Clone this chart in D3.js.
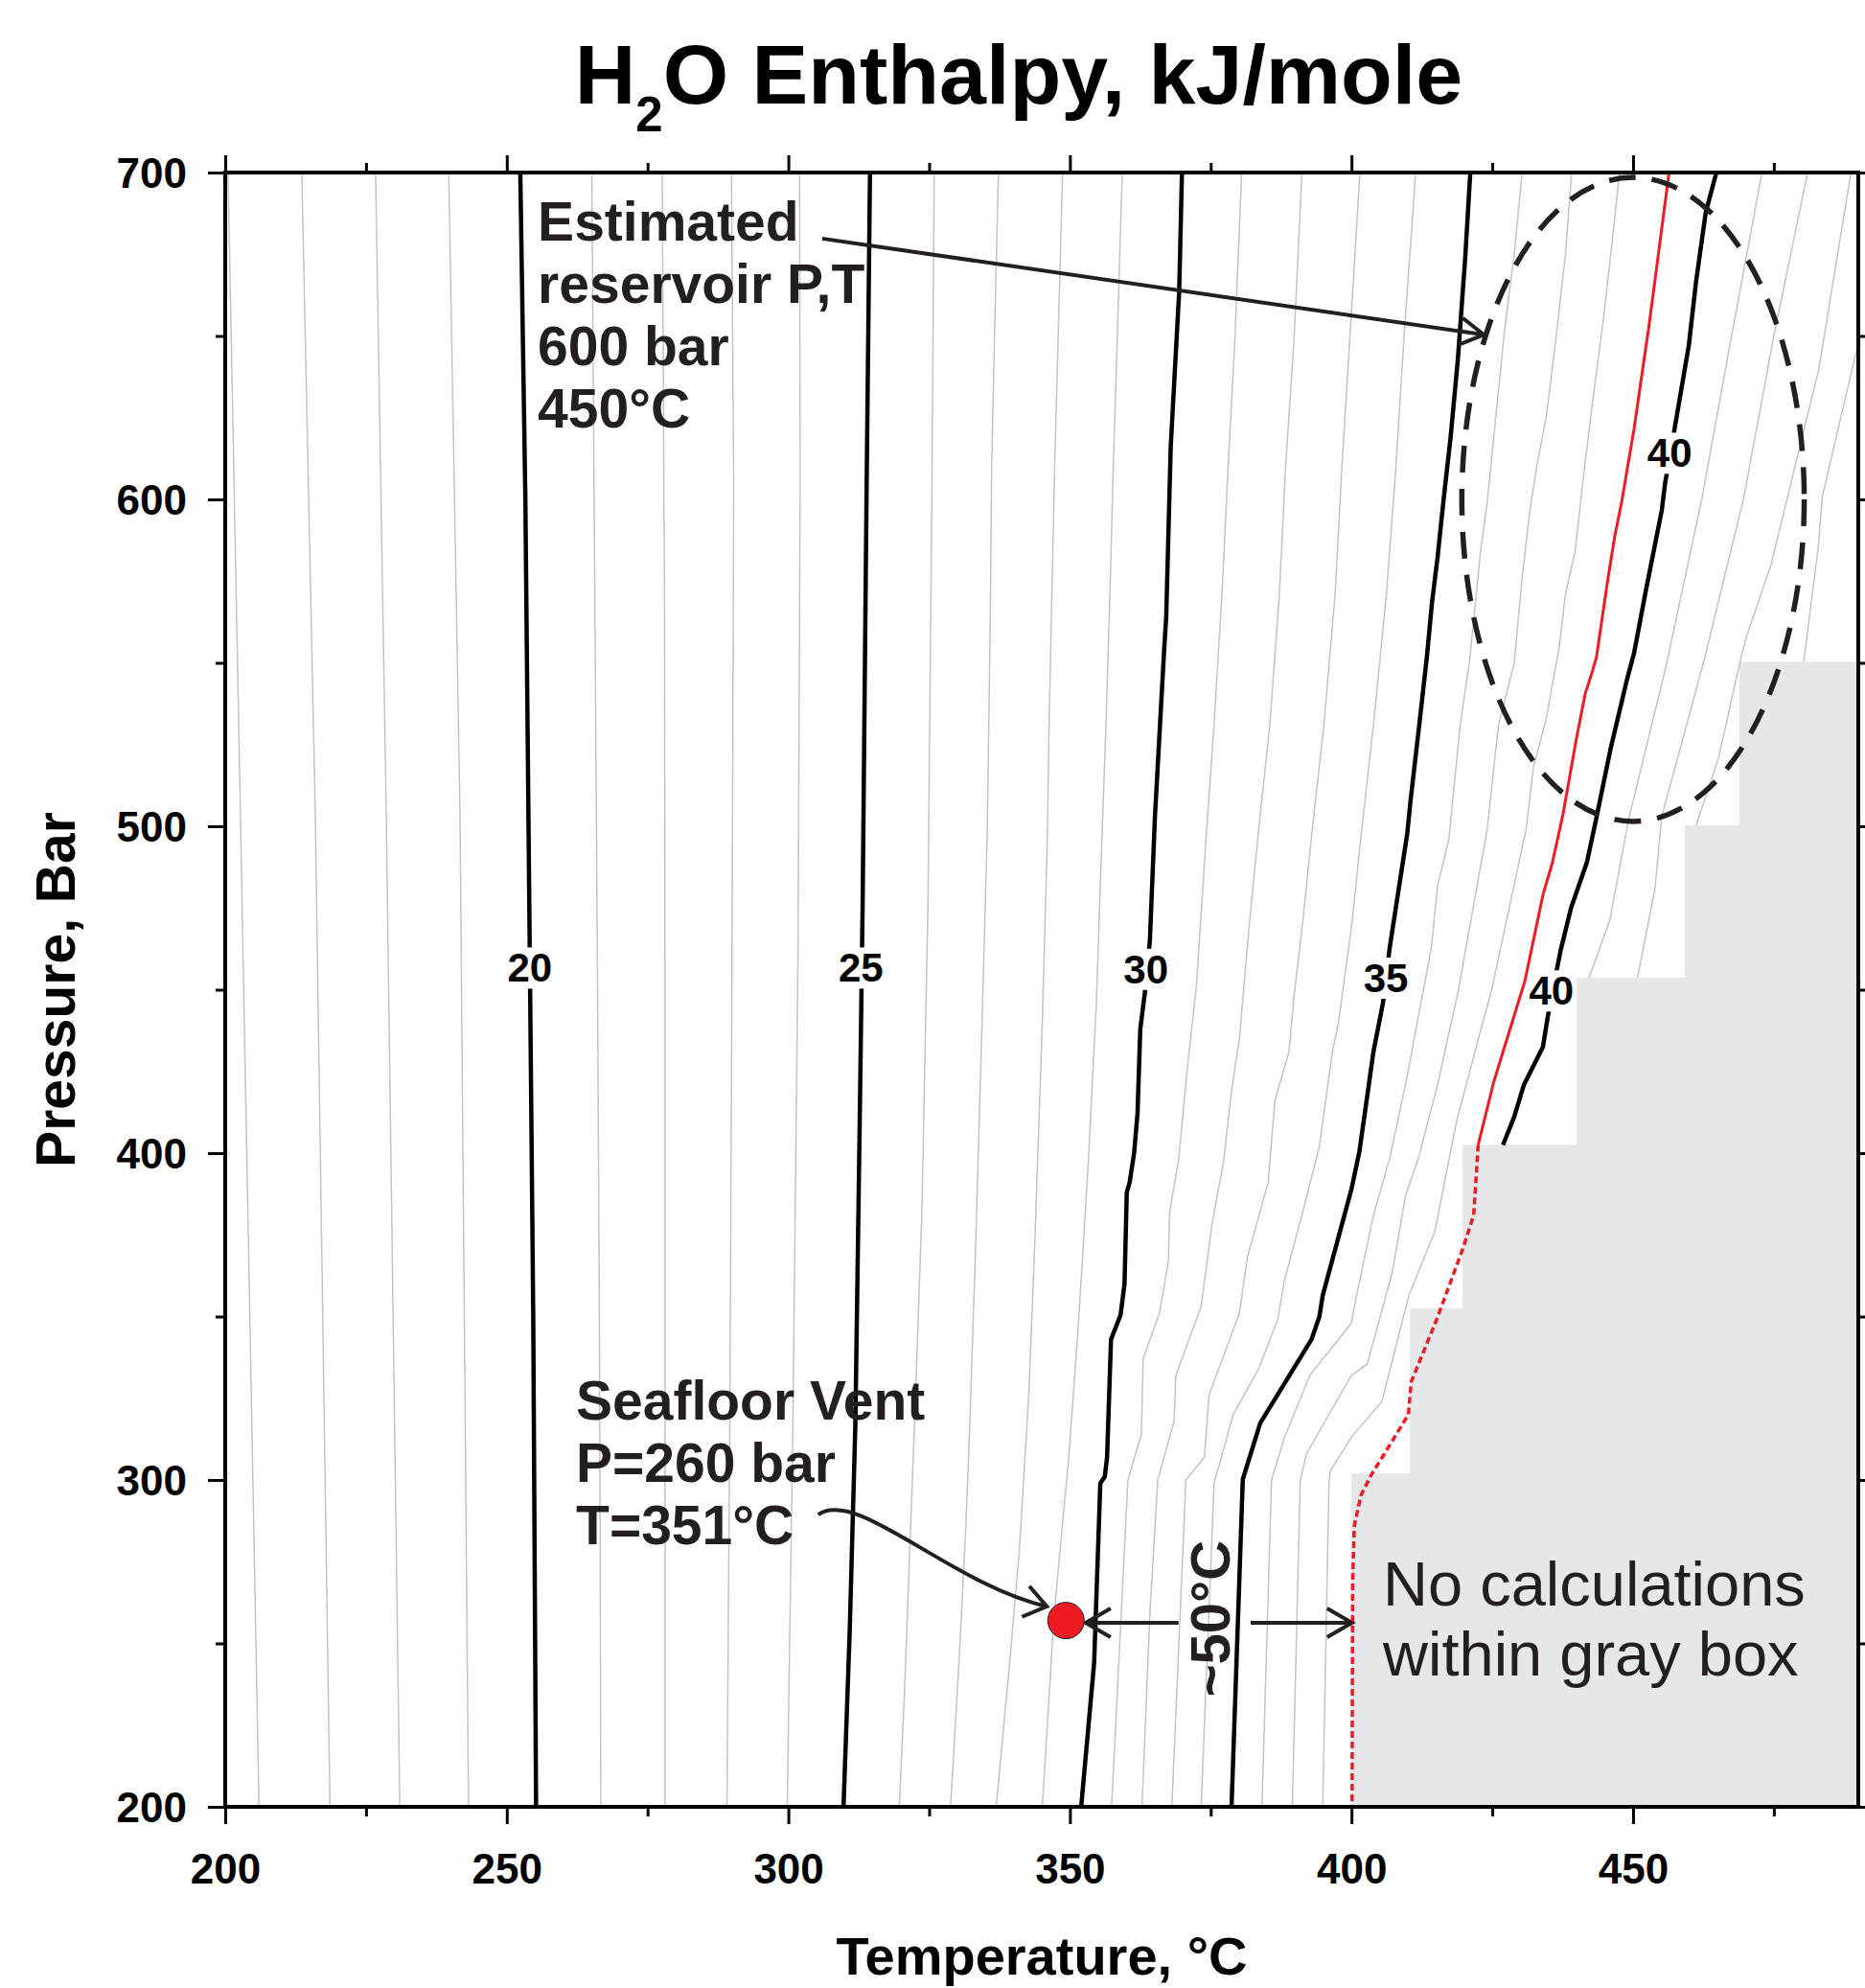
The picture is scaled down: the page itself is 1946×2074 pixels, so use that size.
<!DOCTYPE html>
<html><head><meta charset="utf-8">
<script src="https://cdn.jsdelivr.net/npm/d3@7"></script>
<style>
html,body{margin:0;padding:0;background:#fff;}
svg{display:block;font-family:"Liberation Sans",Arial,Helvetica,sans-serif;}
</style></head><body>
<svg id="chart" width="1946" height="2074"></svg>
<script>
// ---------- axis ticks ----------
const xTicksMajor = [200, 250, 300, 350, 400, 450];
const xTicksMinor = [225, 275, 325, 375, 425, 475];
const yTicksMajor = [200, 300, 400, 500, 600, 700];
const yTicksMinor = [250, 350, 450, 550, 650];

// ---------- enthalpy contours, [T (°C), P (bar)] ----------
const c16 = [[200.5,700],[202.7,503.5],[206.0,200]];
const c17 = [[213.6,700],[216.0,503.5],[218.6,200]];
const c18 = [[226.7,700],[228.6,503.5],[231.0,200]];
const c19 = [[239.7,700],[241.7,503.5],[243.2,200]];
const c20 = [[252.4,700],[253.3,600],[254.1,458],[254.7,350],[255.2,200]];
const c21 = [[265.1,700],[265.6,580],[266.1,458],[266.5,330],[266.7,200]];
const c22 = [[277.6,700],[278.0,572],[278.1,458],[278.1,200]];
const c23 = [[289.9,700],[290.3,604],[290.0,458],[289.6,317],[289.1,200]];
const c24 = [[302.0,700],[302.1,604],[301.7,458],[300.8,317],[299.8,200]];
const c25 = [[314.5,700],[313.9,604],[313.2,477],[312.7,413],[311.9,317],[310.9,254],[309.8,200]];
const c26 = [[325.9,700],[325.5,604],[324.8,477],[323.7,381],[322.4,317],[321.7,285],[320.6,234],[319.7,200]];
const c27 = [[337.3,700],[336.6,649],[336.1,610],[335.9,571],[335.6,531],[335.3,497],[334.4,440],[333.3,374],[332.2,316],[331.5,285],[330.3,244],[328.8,200]];
const c28 = [[348.7,700],[347.9,649],[347.3,610],[346.8,571],[346.3,531],[346.0,497],[345.1,440],[343.8,374],[342.7,326],[341.0,278],[339.3,244],[336.9,200]];
const c29 = [[359.3,700],[358.4,649],[357.7,610],[357.1,571],[356.4,531],[355.7,497],[354.7,446],[353.3,398],[351.6,350],[349.8,307],[347.2,259],[345.1,200]];
const c30 = [[369.9,700],[369.4,663.5],[367.9,616],[367.1,564],[366.8,556],[365.1,503],[364.2,465],[363.3,449],[362.5,438],[362.0,412],[361.4,400],[360.6,391],[360.1,388],[359.7,360],[359.0,350.5],[357.3,343],[356.6,307],[356.2,301],[355.4,299],[354.3,244],[352.0,200]];
const c31 = [[380.5,700],[379.3,649],[378.1,610],[377.0,571],[375.6,531],[374.2,497],[372.5,452],[370.8,425],[369.3,398],[367.7,382],[367.5,367],[365.9,351],[363.0,337],[362.7,314],[360.3,300],[357.4,200]];
const c32 = [[391.2,700],[389.8,649],[388.3,610],[387.2,571],[385.5,531],[383.4,497],[381.8,469],[380.1,435],[378.7,419],[377.3,397.5],[375.3,379],[373.3,353],[368.8,332],[368.5,318],[365.6,300],[364.2,259],[362.8,200]];
const c33 = [[401.5,700],[399.7,649],[398.3,610],[397.1,571],[395.1,531],[392.9,497],[391.5,473],[389.8,448],[388.9,431],[386.4,416],[385.2,391],[381.5,368],[380.1,351],[374.7,326],[373.9,307],[370.6,300],[368.1,200]];
const c34 = [[411.4,700],[409.3,649],[407.9,610],[406.2,571],[403.9,531],[401.7,497],[400.0,469],[397.7,440],[396.6,431],[394.3,402],[391.5,383],[388.1,361],[386.9,349],[383.5,334],[379.0,320],[375.6,299],[373.3,200]];
const c35 = [[421.1,700],[420.2,674],[418.9,643],[417.6,619],[416.3,599],[415.3,582.5],[414.3,568.5],[413.4,552],[412.1,532],[410.5,508],[409.9,497.7],[406.8,463],[405.6,446],[403.9,431],[402.8,417.5],[401.4,400.4],[400.0,389],[394.9,356.5],[394.3,350],[392.9,343],[383.8,317.4],[380.7,300.2],[378.7,200]];
const c36 = [[430.3,700],[428.9,675],[427.2,652],[425.5,623],[424.1,599],[422.9,584],[421.0,551],[419.3,531],[417.3,496],[415.3,482],[414.2,463],[411.9,442],[409.6,421],[406.8,398.5],[403.9,381],[400.5,353],[400.0,348],[392.6,332],[388.1,313],[385.8,300],[384.1,200]];
const c37 = [[439.1,700],[438.0,675],[436.3,649],[434.6,625.5],[432.9,610],[431.7,597],[430.3,576],[428.9,550],[426.1,531],[424.1,499],[419.0,450],[415.3,421],[411.9,398.5],[409.6,387],[407.3,364],[405.6,353],[402.8,335.5],[400.0,332],[392.0,308],[390.9,300],[389.5,200]];
const c38 = [[447.6,700],[446.5,682],[444.8,656],[442.8,629.5],[441.4,610],[439.7,584],[438.0,571],[436.9,555],[434.6,533],[432.3,518],[431.0,499],[424.9,450],[422.7,436],[418.7,410],[414.8,376],[410.2,356.5],[408.8,347],[405.4,324],[400.2,313.6],[396.3,303],[396.0,299],[394.9,200]];
const c39Solid = [[456.4,700],[452.8,652.7],[452.2,645.7],[450.2,621.8],[448.0,599.4],[446.7,588.2],[445.4,574.1],[443.5,551.7],[442.8,547.5],[441.5,540.5],[439.9,526.4],[437.6,504],[435.7,489],[434.0,479],[430.8,452.7],[425.3,422],[422.5,402.5]];
const c39Dotted = [[422.5,402.5],[421.7,381],[419.7,370.4],[415.2,349.4],[410.6,330],[410.1,320],[406.8,310.7],[403.4,301.2],[401.7,295.4],[400.5,286],[400.2,269],[400.1,200]];
const c40 = [[464.8,700],[462.9,687.7],[461.2,666.7],[459.9,647.1],[457.4,621.8],[455.7,605],[455.1,596.6],[452.2,571.4],[450.2,553.1],[448.9,544.7],[446.0,523.6],[443.5,502.6],[441.8,488.9],[439.0,475.1],[437.1,461.7],[434.9,442.2],[434.0,432.5],[430.6,420.8],[428.9,411.1],[426.9,402.5]];
const c41 = [[472.9,700],[467.5,650],[462.2,600],[456.0,550],[449.2,502],[445.9,471.4],[442.2,453.7]];
const c42 = [[481.0,700],[475.0,650],[469.6,600],[462.5,550],[455.1,503],[453.9,481],[450.8,453.7]];
const c43 = [[488.7,700],[483.0,640],[474.5,580],[470.0,557.3],[469.0,550.3],[465.2,521],[461.2,500.3]];
const c44 = [[490.0,648],[483.6,600.8],[482.9,585.4],[480.3,550.3]];

// contour labels
const labelText = ["20", "25", "30", "35", "40", "40"];
const labelT = [254.1, 312.9, 363.5, 406.1, 435.5, 456.5];
const labelP = [456.8, 456.8, 456.4, 453.7, 449.8, 614.3];

// gray "no calculation" region: step corners
const grayStepT = [400, 410.4, 419.7, 440, 459.2, 468.9];
const grayStepP = [302, 352.5, 402.5, 453.7, 500.3, 550.3];

// annotations
const reservoirCenter = [450, 600];
const reservoirRadius = [30.4, 98.5];
const reservoirArrow = [[306.0, 679.8], [423.5, 650.4]];
const ventPoint = [349.3, 257];
const ventArrow = [[305.3, 289.4], [312.3, 297.6], [328.5, 268.4], [345.9, 261.3]];
const gapArrowLeft = [[369.3, 256.3], [352.8, 256.3]];
const gapArrowRight = [[382.1, 256.3], [400.1, 256.3]];
const reservoirLines = ["Estimated", "reservoir P,T", "600 bar", "450°C"];
const ventLines = ["Seafloor Vent", "P=260 bar", "T=351°C"];
const grayLines = ["No calculations", "within gray box"];

// ---------- drawing ----------
const W = 1946, H = 2074;
const x = d3.scaleLinear().domain([200, 490]).range([235, 1939]);
const y = d3.scaleLinear().domain([200, 700]).range([1885, 180]);
const svg = d3.select("#chart");
const FONT = '"Liberation Sans", Arial, Helvetica, sans-serif';
const INK = "#231f20";

const defs = svg.append("defs");
defs.append("clipPath").attr("id", "plotClip").append("rect")
  .attr("x", x(200)).attr("y", y(700)).attr("width", x(490) - x(200)).attr("height", y(200) - y(700));

// gray region polygon
const grayPoly = [[400, 200]];
grayStepT.forEach((t, i) => {
  grayPoly.push([t, grayStepP[i]]);
  const nextT = i < grayStepT.length - 1 ? grayStepT[i + 1] : 490;
  grayPoly.push([nextT, grayStepP[i]]);
});
grayPoly.push([490, 200]);

const plot = svg.append("g").attr("clip-path", "url(#plotClip)");
plot.append("path")
  .attr("d", "M" + grayPoly.map(d => [x(d[0]), y(d[1])].join(",")).join("L") + "Z")
  .attr("fill", "#e6e7e8");

const line = d3.line().x(d => x(d[0])).y(d => y(d[1]));

const thinContours = [c16, c17, c18, c19, c21, c22, c23, c24, c26, c27, c28, c29, c31, c32, c33, c34, c36, c37, c38, c41, c42, c43, c44];
const boldContours = [c20, c25, c30, c35, c40];

plot.append("g").selectAll("path").data(thinContours).join("path")
  .attr("d", line).attr("fill", "none").attr("stroke", "#c4c4c4").attr("stroke-width", 1.5);

// labels first measured for gaps
const labelG = svg.append("g");
labelG.selectAll("text").data(labelText).join("text")
  .attr("x", (d, i) => x(labelT[i])).attr("y", (d, i) => y(labelP[i]))
  .attr("dy", "0.36em").attr("text-anchor", "middle")
  .attr("font-family", FONT).attr("font-weight", "bold").attr("font-size", 42)
  .attr("fill", "#000").text(d => d);

const mask = defs.append("mask").attr("id", "labelGaps").attr("maskUnits", "userSpaceOnUse")
  .attr("x", 0).attr("y", 0).attr("width", W).attr("height", H);
mask.append("rect").attr("x", 0).attr("y", 0).attr("width", W).attr("height", H).attr("fill", "#fff");
labelG.selectAll("text").each(function () {
  const b = this.getBBox();
  mask.append("rect").attr("x", b.x - 3).attr("y", b.y + 2).attr("width", b.width + 6).attr("height", b.height - 4).attr("fill", "#000");
});

plot.append("g").attr("mask", "url(#labelGaps)").selectAll("path").data(boldContours).join("path")
  .attr("d", line).attr("fill", "none").attr("stroke", "#000").attr("stroke-width", 4.5)
  .attr("stroke-linejoin", "round");

plot.append("path").attr("d", line(c39Solid)).attr("fill", "none")
  .attr("stroke", "#ed1c24").attr("stroke-width", 3);
plot.append("path").attr("d", line(c39Dotted)).attr("fill", "none")
  .attr("stroke", "#ed1c24").attr("stroke-width", 3.5).attr("stroke-dasharray", "7,4");

labelG.raise();

// ---------- annotations ----------
const ann = svg.append("g").attr("stroke", INK).attr("fill", "none").attr("stroke-width", 4);

function arrowHead(tx, ty, ang, len, spread) {
  const a1 = ang + Math.PI - spread, a2 = ang + Math.PI + spread;
  ann.append("path").attr("d",
    `M${tx + len * Math.cos(a1)},${ty + len * Math.sin(a1)}L${tx},${ty}L${tx + len * Math.cos(a2)},${ty + len * Math.sin(a2)}`)
    .attr("stroke-linejoin", "miter");
}

// reservoir ellipse
ann.append("ellipse")
  .attr("cx", x(reservoirCenter[0])).attr("cy", y(reservoirCenter[1]))
  .attr("rx", x(reservoirCenter[0] + reservoirRadius[0]) - x(reservoirCenter[0]))
  .attr("ry", y(reservoirCenter[1] - reservoirRadius[1]) - y(reservoirCenter[1]))
  .attr("stroke-width", 5.5).attr("stroke-dasharray", "28,17");

// reservoir arrow
{
  const [s, e] = reservoirArrow;
  const x0 = x(s[0]), y0 = y(s[1]), x1 = x(e[0]), y1 = y(e[1]);
  ann.append("line").attr("x1", x0).attr("y1", y0).attr("x2", x1).attr("y2", y1);
  arrowHead(x1, y1, Math.atan2(y1 - y0, x1 - x0), 28, Math.PI / 6);
}
// vent curved arrow
{
  const p = ventArrow.map(d => [x(d[0]), y(d[1])]);
  ann.append("path").attr("d", `M${p[0]}C${p[1]} ${p[2]} ${p[3]}`);
  arrowHead(p[3][0], p[3][1], Math.atan2(p[3][1] - p[2][1], p[3][0] - p[2][0]), 28, Math.PI / 5);
}
// ~50°C arrows
[gapArrowLeft, gapArrowRight].forEach(a => {
  const x0 = x(a[0][0]), y0 = y(a[0][1]), x1 = x(a[1][0]), y1 = y(a[1][1]);
  ann.append("line").attr("x1", x0).attr("y1", y0).attr("x2", x1).attr("y2", y1);
  arrowHead(x1, y1, Math.atan2(y1 - y0, x1 - x0), 30, Math.PI / 6);
});

// vent dot
svg.append("circle").attr("cx", x(ventPoint[0])).attr("cy", y(ventPoint[1])).attr("r", 19)
  .attr("fill", "#ed1c24").attr("stroke", INK).attr("stroke-width", 1);

// texts
function multiline(lines, tx, ty, size, weight, lh) {
  const t = svg.append("text").attr("x", tx).attr("y", ty)
    .attr("font-family", FONT).attr("font-size", size).attr("font-weight", weight).attr("fill", INK);
  lines.forEach((s, i) => t.append("tspan").attr("x", tx).attr("dy", i === 0 ? 0 : lh).text(s));
}
multiline(reservoirLines, x(255.5), y(679.2), 57, "bold", 65);
multiline(ventLines, x(262.3), y(318.6), 57, "bold", 65);
multiline(grayLines, x(405.6), y(261.6), 65, "normal", 73);

svg.append("text").attr("transform", `translate(${x(378.4)},${y(257.6)}) rotate(-90)`)
  .attr("text-anchor", "middle").attr("font-family", FONT).attr("font-size", 58)
  .attr("font-weight", "bold").attr("fill", INK).text("~50°C");

// ---------- axes ----------
function styleAxis(g) {
  g.select(".domain").remove();
  g.selectAll("line").attr("stroke", "#000").attr("stroke-width", 3);
  g.attr("font-family", FONT).attr("font-size", 44).attr("font-weight", "bold");
  g.selectAll("text").attr("fill", "#000");
}
svg.append("g").attr("transform", `translate(0,${y(200)})`)
  .call(d3.axisBottom(x).tickValues(xTicksMajor).tickSize(18).tickFormat(d3.format("d")))
  .call(styleAxis).call(g => g.selectAll("text").attr("y", 80).attr("dy", 0));
svg.append("g").attr("transform", `translate(0,${y(200)})`)
  .call(d3.axisBottom(x).tickValues(xTicksMinor).tickSize(10).tickFormat("")).call(styleAxis);
svg.append("g").attr("transform", `translate(0,${y(700)})`)
  .call(d3.axisTop(x).tickValues(xTicksMajor).tickSize(18).tickFormat("")).call(styleAxis);
svg.append("g").attr("transform", `translate(0,${y(700)})`)
  .call(d3.axisTop(x).tickValues(xTicksMinor).tickSize(10).tickFormat("")).call(styleAxis);
svg.append("g").attr("transform", `translate(${x(200)},0)`)
  .call(d3.axisLeft(y).tickValues(yTicksMajor).tickSize(18).tickFormat(d3.format("d")))
  .call(styleAxis).call(g => g.selectAll("text").attr("x", -40).attr("dy", "0.36em"));
svg.append("g").attr("transform", `translate(${x(200)},0)`)
  .call(d3.axisLeft(y).tickValues(yTicksMinor).tickSize(10).tickFormat("")).call(styleAxis);
svg.append("g").attr("transform", `translate(${x(490)},0)`)
  .call(d3.axisRight(y).tickValues(yTicksMajor).tickSize(18).tickFormat("")).call(styleAxis);
svg.append("g").attr("transform", `translate(${x(490)},0)`)
  .call(d3.axisRight(y).tickValues(yTicksMinor).tickSize(10).tickFormat("")).call(styleAxis);

svg.append("rect").attr("x", x(200)).attr("y", y(700))
  .attr("width", x(490) - x(200)).attr("height", y(200) - y(700))
  .attr("fill", "none").attr("stroke", "#000").attr("stroke-width", 4);

// axis titles
svg.append("text").attr("x", (x(200) + x(490)) / 2).attr("y", 2060).attr("text-anchor", "middle")
  .attr("font-family", FONT).attr("font-size", 56).attr("font-weight", "bold").attr("fill", "#000")
  .text("Temperature, °C");
svg.append("text").attr("transform", `translate(78,${(y(200) + y(700)) / 2}) rotate(-90)`)
  .attr("text-anchor", "middle").attr("font-family", FONT).attr("font-size", 57)
  .attr("font-weight", "bold").attr("fill", "#000").text("Pressure, Bar");

// title
const title = svg.append("text").attr("x", 1063).attr("y", 108).attr("text-anchor", "middle")
  .attr("font-family", FONT).attr("font-size", 88).attr("font-weight", "bold").attr("fill", "#000");
title.append("tspan").text("H");
title.append("tspan").attr("font-size", 51).attr("dy", 29).text("2");
title.append("tspan").attr("dy", -29).text("O Enthalpy, kJ/mole");
</script></body></html>
